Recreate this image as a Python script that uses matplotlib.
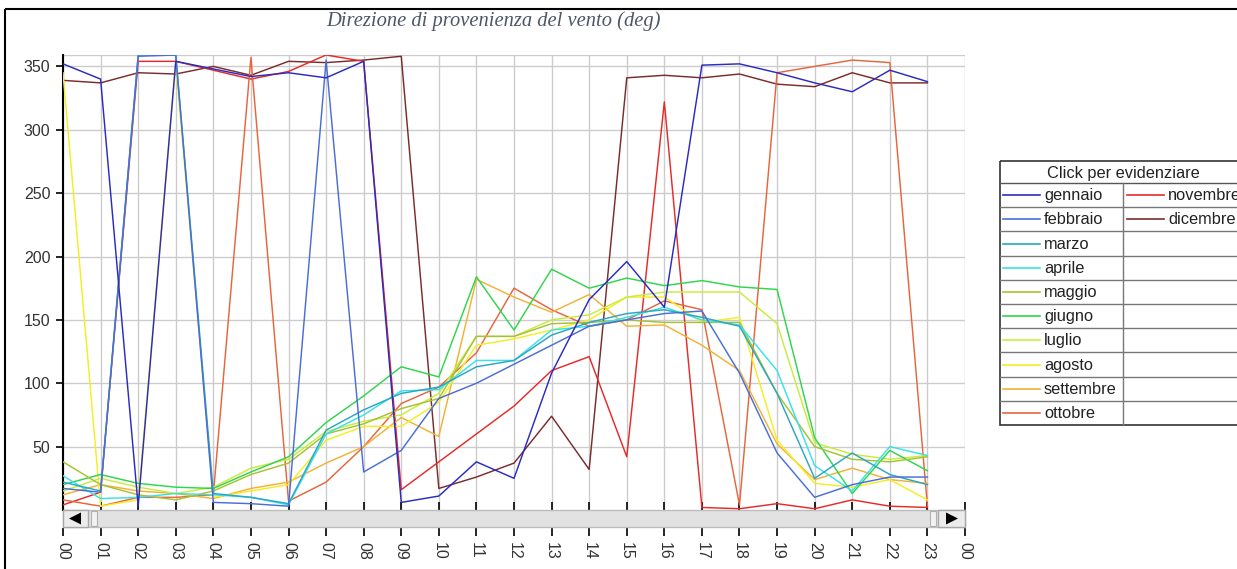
import matplotlib
matplotlib.use("Agg")
import matplotlib.pyplot as plt
from matplotlib.patches import Rectangle, Polygon

# ---------------- data ----------------
hours = list(range(24))
hour_labels = ["%02d" % h for h in range(24)] + ["00"]

months = ["gennaio", "febbraio", "marzo", "aprile", "maggio", "giugno",
          "luglio", "agosto", "settembre", "ottobre", "novembre", "dicembre"]

colors = ["#2b2bc0", "#4a6ed6", "#2ba6c4", "#38e2ea", "#a6c232", "#2fd64c",
          "#c9ec3c", "#f4ee22", "#f2b236", "#e8653c", "#e62a2a", "#7a2c2c"]

gennaio = [352, 340, 3, 354, 348, 342, 345, 341, 354, 6, 11, 38, 25, 108, 166, 196, 160, 351, 352, 345, 337, 330, 347, 338]
febbraio = [17, 14, 358, 359, 6, 5, 3, 355, 30, 47, 88, 100, 115, 130, 145, 150, 155, 157, 108, 45, 10, 20, 26, 26]
marzo = [22, 15, 359, 359, 13, 10, 5, 63, 79, 92, 97, 113, 118, 138, 148, 155, 158, 152, 145, 92, 25, 45, 28, 20]
aprile = [27, 9, 10, 13, 12, 10, 4, 60, 75, 94, 95, 118, 118, 142, 145, 152, 160, 150, 146, 110, 35, 15, 50, 43]
maggio = [38, 20, 12, 8, 15, 28, 37, 60, 68, 80, 88, 137, 137, 147, 148, 150, 148, 148, 148, 92, 50, 40, 38, 42]
giugno = [20, 28, 21, 18, 17, 30, 42, 69, 90, 113, 105, 184, 142, 190, 175, 183, 177, 181, 176, 174, 57, 13, 47, 31]
luglio = [15, 25, 18, 13, 18, 33, 40, 62, 70, 75, 92, 137, 137, 150, 154, 168, 172, 172, 172, 147, 53, 44, 40, 43]
agosto = [345, 3, 8, 352, 10, 15, 20, 55, 66, 66, 85, 130, 135, 142, 150, 168, 168, 148, 152, 55, 21, 18, 24, 8]
settembre = [12, 20, 15, 13, 9, 17, 22, 37, 50, 73, 58, 182, 168, 156, 170, 145, 146, 130, 110, 52, 24, 33, 24, 21]
ottobre = [8, 3, 10, 10, 12, 357, 7, 22, 50, 84, 97, 124, 175, 158, 145, 150, 165, 158, 4, 345, 350, 355, 353, 3]
novembre = [4, 14, 354, 354, 347, 340, 346, 359, 354, 16, 38, 60, 82, 110, 121, 42, 322, 2, 1, 5, 1, 8, 3, 2]
dicembre = [339, 337, 345, 344, 350, 343, 354, 353, 355, 358, 17, 26, 37, 74, 32, 341, 343, 341, 344, 336, 334, 345, 337, 337]

series = [gennaio, febbraio, marzo, aprile, maggio, giugno,
          luglio, agosto, settembre, ottobre, novembre, dicembre]

yticks = [50, 100, 150, 200, 250, 300, 350]
title = "Direzione di provenienza del vento (deg)"
legend_header = "Click per evidenziare"

# ---------------- figure ----------------
W, H = 1237, 569
fig = plt.figure(figsize=(W / 100, H / 100), dpi=100)
fig.patch.set_facecolor("white")

def fx(px):
    return px / W

def fy(py):
    return 1 - py / H

ax_l, ax_r, ax_t, ax_b = 63, 965, 55, 510
ax = fig.add_axes([fx(ax_l), fy(ax_b), fx(ax_r - ax_l), (ax_b - ax_t) / H])
ax.set_xlim(0, 24)
ax.set_ylim(0, 359)

for i in range(len(series) - 1, -1, -1):
    ax.plot(hours, series[i], color=colors[i], lw=1.05, zorder=3 + (len(series) - i) * 0.01)

ax.set_xticks(range(25))
ax.set_xticklabels([])
ax.set_yticks(yticks)
ax.set_yticklabels([str(v) for v in yticks], fontsize=11.5, color="#333333",
                   family="Liberation Sans")
ax.grid(True, color="#cccccc", lw=1.0, zorder=0)
ax.tick_params(axis="y", direction="out", length=5, width=1.2, color="black", pad=4)
ax.tick_params(axis="x", direction="in", length=6, width=1.2, color="black")
for s in ["top", "right", "bottom"]:
    ax.spines[s].set_visible(False)
ax.spines["left"].set_color("black")
ax.spines["left"].set_linewidth(1.5)
ax.axhline(359, color="#cccccc", lw=1.0, zorder=0)

# label axis below the scrollbar
axl = fig.add_axes([fx(ax_l), fy(528), fx(ax_r - ax_l), 0.0001])
axl.set_xlim(0, 24)
axl.set_yticks([])
for s in axl.spines.values():
    s.set_visible(False)
axl.patch.set_visible(False)
axl.set_xticks(range(25))
axl.set_xticklabels(hour_labels, rotation=270, fontsize=11.5, color="#333333",
                    family="Liberation Sans")
axl.tick_params(axis="x", direction="out", length=6, width=1.2, color="black", pad=4)

# ---------------- decorations (pixel overlay) ----------------
deco = fig.add_axes([0, 0, 1, 1])
deco.set_xlim(0, W)
deco.set_ylim(H, 0)
deco.axis("off")
deco.patch.set_visible(False)

# outer frame
deco.add_patch(Rectangle((5, 9), 1300, 700, fill=False, ec="black", lw=1.5))

# title
deco.text(493, 21, title, ha="center", va="center", fontsize=14.8, style="italic",
          family="Liberation Serif", color="#4d5866")

# scrollbar
deco.add_patch(Rectangle((63, 510), 902, 17, fc="#e2e2e2", ec="#bdbdbd", lw=1))
deco.add_patch(Rectangle((63, 510), 25, 17, fc="#ececec", ec="#a8a8a8", lw=1))
deco.add_patch(Rectangle((91, 511), 6, 15, fc="#f2f2f2", ec="#b0b0b0", lw=0.8))
deco.add_patch(Polygon([(69, 518.5), (81, 512.5), (81, 524.5)], closed=True, fc="black", ec="none"))
deco.add_patch(Rectangle((930, 511), 6, 15, fc="#f2f2f2", ec="#b0b0b0", lw=0.8))
deco.add_patch(Rectangle((938, 510), 27, 17, fc="#ececec", ec="#a8a8a8", lw=1))
deco.add_patch(Polygon([(958, 518.5), (946, 512.5), (946, 524.5)], closed=True, fc="black", ec="none"))

# legend table
L, R, T = 1000, 1246, 161
hdr_b = 183
row_h = 24.2
nrows = 10
B = hdr_b + nrows * row_h
deco.add_patch(Rectangle((L, T), R - L, B - T, fill=False, ec="#333333", lw=1.2))
deco.plot([L, R], [hdr_b, hdr_b], color="#555555", lw=1)
for r in range(1, nrows):
    deco.plot([L, R], [hdr_b + r * row_h] * 2, color="#777777", lw=1)
deco.plot([1123, 1123], [hdr_b, B], color="#777777", lw=1)
deco.text(1123, (T + hdr_b) / 2 + 1, legend_header, ha="center", va="center",
          fontsize=11.8, family="Liberation Sans", color="#222222")
for i, name in enumerate(months):
    col = i // nrows
    row = i % nrows
    yc = hdr_b + row * row_h + row_h / 2
    x0 = 1003 if col == 0 else 1127
    deco.plot([x0, x0 + 37], [yc, yc], color=colors[i], lw=1.2)
    deco.text(x0 + 41, yc + 0.5, name, ha="left", va="center", fontsize=11.8,
              family="Liberation Sans", color="#222222")

fig.savefig("out.png", dpi=100)
